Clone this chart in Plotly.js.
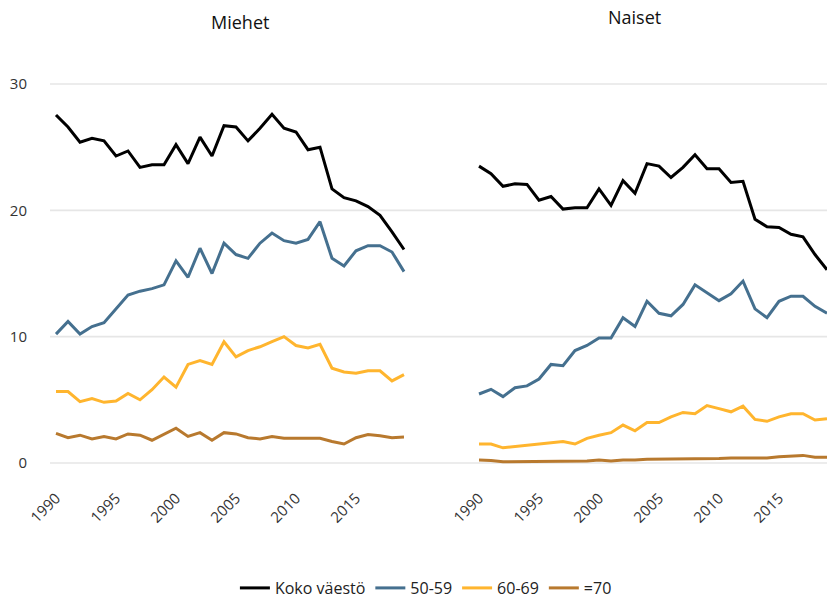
<!DOCTYPE html>
<html>
<head>
<meta charset="utf-8">
<script src="https://cdn.plot.ly/plotly-3.0.1.min.js"></script>
<style>html,body{margin:0;padding:0;background:#fff;}#chart{width:827px;height:606px;}</style>
</head>
<body>
<div id="chart"></div>
<script>
var years = [1990,1991,1992,1993,1994,1995,1996,1997,1998,1999,2000,2001,2002,2003,2004,2005,2006,2007,2008,2009,2010,2011,2012,2013,2014,2015,2016,2017,2018,2019];
var seriesNames = ["Koko väestö", "50-59", "60-69", "=70"];
var panelTitles = ["Miehet", "Naiset"];

var menAll   = [27.55,26.6,25.4,25.7,25.5,24.3,24.7,23.4,23.6,23.6,25.2,23.7,25.8,24.3,26.7,26.6,25.5,26.5,27.6,26.5,26.2,24.8,25.0,21.7,21.0,20.75,20.3,19.6,18.3,16.9];
var men5059  = [10.2,11.2,10.2,10.8,11.1,12.2,13.3,13.6,13.8,14.1,16.0,14.7,17.0,15.0,17.4,16.5,16.2,17.4,18.2,17.6,17.4,17.7,19.1,16.2,15.6,16.8,17.2,17.2,16.7,15.15];
var men6069  = [5.65,5.65,4.85,5.1,4.8,4.9,5.5,5.0,5.8,6.8,6.0,7.8,8.1,7.8,9.6,8.4,8.9,9.2,9.6,10.0,9.3,9.1,9.4,7.5,7.2,7.1,7.3,7.3,6.5,7.0];
var men70    = [2.35,2.0,2.2,1.9,2.1,1.9,2.3,2.2,1.8,2.3,2.75,2.1,2.4,1.8,2.4,2.3,2.0,1.9,2.1,1.95,1.95,1.95,1.95,1.7,1.5,2.0,2.25,2.15,2.0,2.05];

var womenAll  = [23.5,22.9,21.9,22.1,22.05,20.8,21.1,20.1,20.2,20.2,21.7,20.4,22.35,21.35,23.7,23.5,22.6,23.4,24.4,23.3,23.3,22.2,22.3,19.3,18.7,18.65,18.1,17.9,16.5,15.3];
var women5059 = [5.46,5.83,5.25,5.96,6.1,6.65,7.8,7.7,8.9,9.3,9.9,9.9,11.5,10.8,12.8,11.85,11.65,12.55,14.1,13.5,12.85,13.4,14.4,12.2,11.5,12.8,13.2,13.2,12.4,11.85];
var women6069 = [1.5,1.5,1.2,1.3,1.4,1.5,1.55,1.7,1.5,1.95,2.2,2.4,3.0,2.55,3.2,3.2,3.65,4.0,3.9,4.55,4.3,4.05,4.5,3.45,3.3,3.65,3.9,3.9,3.4,3.5];
var women70   = [0.24,0.2,0.1,0.1,0.1,0.1,0.1,0.15,0.1,0.15,0.24,0.15,0.24,0.24,0.3,0.3,0.3,0.3,0.3,0.3,0.35,0.4,0.4,0.4,0.4,0.5,0.55,0.6,0.45,0.45];

var yTicks = [0,10,20,30];
var colors = ["#000000", "#45708f", "#ffb52e", "#b8792e"];

var menData = [menAll, men5059, men6069, men70];
var womenData = [womenAll, women5059, women6069, women70];

var traces = [];
for (var i = 0; i < 4; i++) {
  traces.push({x: years, y: menData[i], type: 'scatter', mode: 'lines', name: seriesNames[i],
    line: {color: colors[i], width: 3}, xaxis: 'x', yaxis: 'y', legendgroup: 'g' + i, showlegend: true});
}
for (var i = 0; i < 4; i++) {
  traces.push({x: years, y: womenData[i], type: 'scatter', mode: 'lines', name: seriesNames[i],
    line: {color: colors[i], width: 3}, xaxis: 'x2', yaxis: 'y2', legendgroup: 'g' + i, showlegend: false});
}

var W = 827, H = 606;
var yDom = [1 - 475.6 / H, 1 - 71.4 / H];
var font = {family: "Open Sans, Lato, sans-serif", color: "#333333", size: 13};

var shapes = yTicks.map(function (v) {
  return {type: 'line', xref: 'paper', yref: 'y', x0: 50 / W, x1: 1, y0: v, y1: v,
    line: {color: '#e6e6e6', width: 1.6}, layer: 'below'};
});

var xCommon = {tickmode: 'linear', tick0: 1990, dtick: 5, tickangle: -45, showgrid: false, zeroline: false,
  showline: false, ticks: '', ticklabelstandoff: 10, tickfont: {family: font.family, size: 15, color: '#333'}};

var layout = {
  width: W, height: H,
  margin: {l: 0, r: 0, t: 0, b: 0},
  paper_bgcolor: '#fff', plot_bgcolor: 'rgba(0,0,0,0)',
  font: font,
  showlegend: true,
  legend: {orientation: 'h', x: 0.515, xanchor: 'center', y: 1 - 588 / H, yanchor: 'middle',
    font: {family: font.family, size: 16, color: '#222'}, itemwidth: 30, tracegroupgap: 0},
  xaxis: Object.assign({}, xCommon, {domain: [50 / W, 410 / W], range: [1989.5, 2019.5], anchor: 'y'}),
  xaxis2: Object.assign({}, xCommon, {domain: [473 / W, 1], range: [1989.5, 2019.0], anchor: 'y2'}),
  yaxis: {domain: yDom, range: [-1, 31], tickvals: yTicks, showgrid: false, zeroline: false, showline: false,
    ticks: '', ticklabelstandoff: 22, tickfont: {family: font.family, size: 15, color: '#333'}, anchor: 'x'},
  yaxis2: {domain: yDom, range: [-1, 31], showgrid: false, zeroline: false, showline: false,
    showticklabels: false, ticks: '', anchor: 'x2'},
  shapes: shapes,
  annotations: [
    {text: panelTitles[0], xref: 'paper', yref: 'paper', x: 240 / W, y: 1 - 22 / H, showarrow: false,
      xanchor: 'center', yanchor: 'middle', font: {family: font.family, size: 18, color: '#111'}},
    {text: panelTitles[1], xref: 'paper', yref: 'paper', x: 634 / W, y: 1 - 17 / H, showarrow: false,
      xanchor: 'center', yanchor: 'middle', font: {family: font.family, size: 18, color: '#111'}}
  ]
};

Plotly.newPlot('chart', traces, layout, {displayModeBar: false, staticPlot: true});
</script>
</body>
</html>
